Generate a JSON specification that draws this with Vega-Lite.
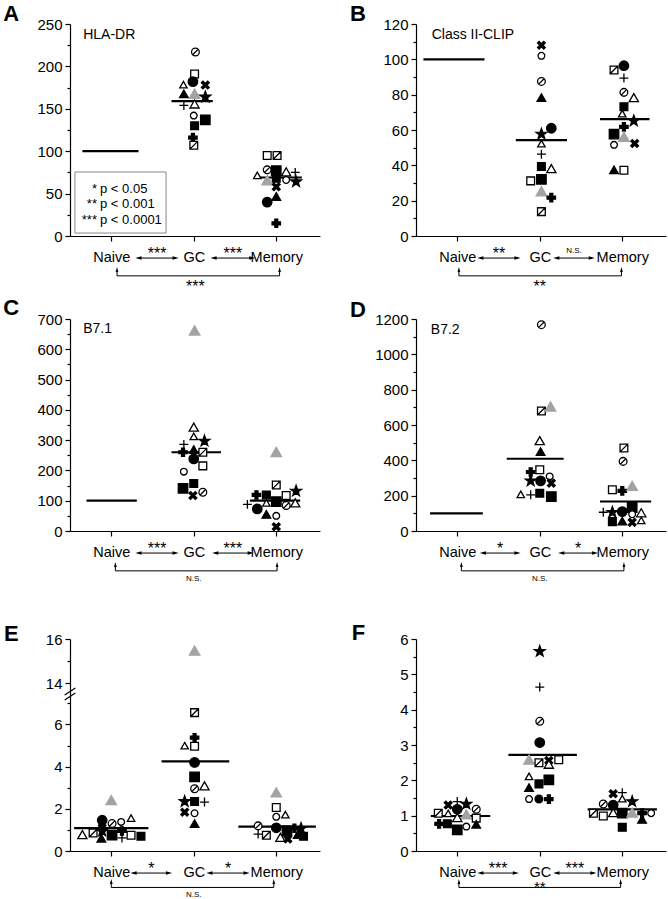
{
"$schema": "https://vega.github.io/schema/vega-lite/v6.json",
"background": "white",
"padding": {"left": 3, "top": 2, "right": 2, "bottom": 2},
"bounds": "flush",
"columns": 2,
"spacing": {"row": 83, "column": 96},
"config": {"font": "Liberation Sans", "view": {"stroke": null},
  "axis": {"grid": false, "domainColor": "black", "tickColor": "black", "labelColor": "black", "titleColor": "black", "domainWidth": 1.2, "tickWidth": 1.2, "labelFontSize": 15, "titleFontSize": 15.5, "titleFontWeight": "normal", "labelFlush": false, "labelOverlap": false}},
"datasets": {
"pts": [
{"p":"A","s":"sc","x":1.02,"y":217},{"p":"A","s":"os","x":1.01,"y":191},{"p":"A","s":"otS","x":0.875,"y":178},{"p":"A","s":"fc","x":0.99,"y":182},{"p":"A","s":"bx","x":1.14,"y":178},{"p":"A","s":"ft","x":0.88,"y":167},{"p":"A","s":"gt","x":1.01,"y":167},{"p":"A","s":"st","x":1.14,"y":164},{"p":"A","s":"pl","x":0.88,"y":154},{"p":"A","s":"otL","x":1.01,"y":155},{"p":"A","s":"oc","x":1.0,"y":142},{"p":"A","s":"fsS","x":1.01,"y":130},{"p":"A","s":"fsL","x":1.14,"y":137},{"p":"A","s":"bp","x":0.99,"y":116},{"p":"A","s":"ss","x":1.0,"y":107},
{"p":"A","s":"os","x":1.89,"y":95},{"p":"A","s":"ss","x":2.01,"y":95},{"p":"A","s":"sc","x":1.89,"y":78},{"p":"A","s":"fsL","x":2.0,"y":77},{"p":"A","s":"fsS","x":2.0,"y":68},{"p":"A","s":"otL","x":2.12,"y":75},{"p":"A","s":"pl","x":2.23,"y":75},{"p":"A","s":"otS","x":1.77,"y":71},{"p":"A","s":"gt","x":1.89,"y":65},{"p":"A","s":"oc","x":2.12,"y":66},{"p":"A","s":"st","x":2.24,"y":64},{"p":"A","s":"bx","x":2.0,"y":58},{"p":"A","s":"ft","x":2.0,"y":46},{"p":"A","s":"fc","x":1.89,"y":40},{"p":"A","s":"bp","x":2.0,"y":15},
{"p":"B","s":"bx","x":1.02,"y":108},{"p":"B","s":"oc","x":1.02,"y":102},{"p":"B","s":"sc","x":1.02,"y":87.5},{"p":"B","s":"ft","x":1.02,"y":78},{"p":"B","s":"fc","x":1.14,"y":61},{"p":"B","s":"st","x":1.02,"y":57.7},{"p":"B","s":"otS","x":1.02,"y":52},{"p":"B","s":"pl","x":1.02,"y":46.3},{"p":"B","s":"fsS","x":1.02,"y":39.3},{"p":"B","s":"otL","x":1.14,"y":37.8},{"p":"B","s":"os","x":0.89,"y":31.2},{"p":"B","s":"fsL","x":1.02,"y":32.1},{"p":"B","s":"gt","x":1.02,"y":25},{"p":"B","s":"bp","x":1.14,"y":21.7},{"p":"B","s":"ss","x":1.02,"y":13.8},
{"p":"B","s":"fc","x":2.02,"y":96.4},{"p":"B","s":"ss","x":1.9,"y":94},{"p":"B","s":"pl","x":2.02,"y":89.4},{"p":"B","s":"sc","x":2.02,"y":81.3},{"p":"B","s":"otL","x":2.14,"y":78},{"p":"B","s":"fsS","x":2.02,"y":73.2},{"p":"B","s":"otS","x":2.0,"y":69},{"p":"B","s":"st","x":2.14,"y":65.2},{"p":"B","s":"bp","x":2.02,"y":61.8},{"p":"B","s":"fsL","x":1.9,"y":57.7},{"p":"B","s":"gt","x":2.02,"y":55.8},{"p":"B","s":"bx","x":2.15,"y":52.4},{"p":"B","s":"oc","x":1.9,"y":51.6},{"p":"B","s":"ft","x":1.9,"y":37.2},{"p":"B","s":"os","x":2.02,"y":37.2},
{"p":"C","s":"gt","x":1.01,"y":660},{"p":"C","s":"otL","x":1.0,"y":341},{"p":"C","s":"otS","x":1.0,"y":311},{"p":"C","s":"pl","x":0.88,"y":286},{"p":"C","s":"st","x":1.13,"y":297},{"p":"C","s":"bp","x":0.87,"y":260},{"p":"C","s":"ft","x":1.0,"y":267},{"p":"C","s":"ss","x":1.11,"y":260},{"p":"C","s":"fc","x":1.0,"y":238},{"p":"C","s":"os","x":1.11,"y":215},{"p":"C","s":"oc","x":0.88,"y":196},{"p":"C","s":"fsL","x":0.87,"y":141},{"p":"C","s":"fsS","x":1.0,"y":157},{"p":"C","s":"bx","x":0.99,"y":117},{"p":"C","s":"sc","x":1.11,"y":128},
{"p":"C","s":"gt","x":2.0,"y":259},{"p":"C","s":"ss","x":2.0,"y":152},{"p":"C","s":"st","x":2.24,"y":132},{"p":"C","s":"bp","x":1.76,"y":119},{"p":"C","s":"fsS","x":1.88,"y":119},{"p":"C","s":"os","x":2.12,"y":117},{"p":"C","s":"pl","x":1.65,"y":88},{"p":"C","s":"fc","x":1.77,"y":73},{"p":"C","s":"otS","x":1.88,"y":91},{"p":"C","s":"fsL","x":2.0,"y":97},{"p":"C","s":"sc","x":2.12,"y":84},{"p":"C","s":"otL","x":2.23,"y":91},{"p":"C","s":"ft","x":1.88,"y":53},{"p":"C","s":"oc","x":2.0,"y":50},{"p":"C","s":"bx","x":2.0,"y":14},
{"p":"D","s":"sc","x":1.02,"y":1168},{"p":"D","s":"ss","x":1.02,"y":679},{"p":"D","s":"gt","x":1.13,"y":701},{"p":"D","s":"otL","x":1.0,"y":508},{"p":"D","s":"ft","x":1.01,"y":447},{"p":"D","s":"bp","x":0.89,"y":334},{"p":"D","s":"os","x":1.0,"y":347},{"p":"D","s":"st","x":0.89,"y":284},{"p":"D","s":"fc","x":1.01,"y":284},{"p":"D","s":"oc","x":1.12,"y":309},{"p":"D","s":"bx","x":1.14,"y":271},{"p":"D","s":"otS","x":0.77,"y":205},{"p":"D","s":"pl","x":0.89,"y":205},{"p":"D","s":"fsS","x":1.0,"y":214},{"p":"D","s":"fsL","x":1.14,"y":195},
{"p":"D","s":"ss","x":2.02,"y":470},{"p":"D","s":"sc","x":2.01,"y":394},{"p":"D","s":"os","x":1.88,"y":233},{"p":"D","s":"bp","x":2.0,"y":227},{"p":"D","s":"gt","x":2.12,"y":252},{"p":"D","s":"fsL","x":2.12,"y":133},{"p":"D","s":"pl","x":1.77,"y":106},{"p":"D","s":"st","x":1.88,"y":106},{"p":"D","s":"fc","x":2.0,"y":110},{"p":"D","s":"oc","x":2.12,"y":95},{"p":"D","s":"otL","x":2.23,"y":100},{"p":"D","s":"fsS","x":1.88,"y":53},{"p":"D","s":"ft","x":2.0,"y":53},{"p":"D","s":"bx","x":2.12,"y":49},{"p":"D","s":"otS","x":2.23,"y":57},
{"p":"E","s":"gt","x":0.0,"y":2.38},{"p":"E","s":"otL","x":-0.35,"y":0.75},{"p":"E","s":"ss","x":-0.22,"y":0.85},{"p":"E","s":"fc","x":-0.11,"y":1.46},{"p":"E","s":"st","x":-0.11,"y":0.95},{"p":"E","s":"ft","x":-0.12,"y":0.58},{"p":"E","s":"fsL","x":0.01,"y":0.75},{"p":"E","s":"sc","x":0.01,"y":1.3},{"p":"E","s":"oc","x":0.12,"y":1.38},{"p":"E","s":"otS","x":0.24,"y":1.54},{"p":"E","s":"bp","x":0.13,"y":0.95},{"p":"E","s":"pl","x":0.13,"y":0.62},{"p":"E","s":"os","x":0.24,"y":0.75},{"p":"E","s":"fsS","x":0.36,"y":0.7},{"p":"E","s":"bx","x":-0.11,"y":1.1},
{"p":"E","s":"gt","x":1.01,"y":15.45},{"p":"E","s":"ss","x":1.01,"y":6.56},{"p":"E","s":"bp","x":1.01,"y":5.37},{"p":"E","s":"otS","x":0.89,"y":4.97},{"p":"E","s":"os","x":1.01,"y":4.97},{"p":"E","s":"fc","x":1.01,"y":4.2},{"p":"E","s":"fsL","x":1.01,"y":3.51},{"p":"E","s":"sc","x":1.01,"y":2.95},{"p":"E","s":"otL","x":1.13,"y":3.06},{"p":"E","s":"st","x":0.89,"y":2.35},{"p":"E","s":"fsS","x":1.01,"y":2.35},{"p":"E","s":"pl","x":1.13,"y":2.32},{"p":"E","s":"bx","x":0.89,"y":1.84},{"p":"E","s":"oc","x":1.01,"y":1.79},{"p":"E","s":"ft","x":1.01,"y":1.27},
{"p":"E","s":"gt","x":2.0,"y":2.75},{"p":"E","s":"os","x":2.0,"y":2.06},{"p":"E","s":"oc","x":2.0,"y":1.62},{"p":"E","s":"otS","x":2.11,"y":1.7},{"p":"E","s":"sc","x":1.78,"y":1.19},{"p":"E","s":"pl","x":1.78,"y":0.8},{"p":"E","s":"ss","x":1.88,"y":0.75},{"p":"E","s":"fc","x":2.0,"y":1.1},{"p":"E","s":"fsL","x":2.13,"y":0.96},{"p":"E","s":"otL","x":2.05,"y":0.62},{"p":"E","s":"bx","x":2.14,"y":0.57},{"p":"E","s":"bp","x":2.22,"y":1.08},{"p":"E","s":"ft","x":2.26,"y":0.75},{"p":"E","s":"st","x":2.3,"y":1.07},{"p":"E","s":"fsS","x":2.33,"y":0.7},
{"p":"F","s":"bx","x":-0.11,"y":1.3},{"p":"F","s":"pl","x":0.0,"y":1.4},{"p":"F","s":"st","x":0.11,"y":1.33},{"p":"F","s":"fc","x":0.0,"y":1.18},{"p":"F","s":"sc","x":0.23,"y":1.18},{"p":"F","s":"ss","x":-0.23,"y":1.07},{"p":"F","s":"otS","x":-0.11,"y":1.05},{"p":"F","s":"gt","x":0.11,"y":1.02},{"p":"F","s":"os","x":0.23,"y":0.93},{"p":"F","s":"otL","x":0.0,"y":0.93},{"p":"F","s":"bp","x":-0.22,"y":0.77},{"p":"F","s":"fsS","x":-0.12,"y":0.77},{"p":"F","s":"fsL","x":0.0,"y":0.6},{"p":"F","s":"oc","x":0.11,"y":0.69},{"p":"F","s":"ft","x":0.23,"y":0.74},
{"p":"F","s":"st","x":1.0,"y":5.65},{"p":"F","s":"pl","x":1.0,"y":4.64},{"p":"F","s":"sc","x":1.0,"y":3.67},{"p":"F","s":"fc","x":1.0,"y":3.07},{"p":"F","s":"gt","x":0.87,"y":2.57},{"p":"F","s":"ss","x":0.99,"y":2.5},{"p":"F","s":"bx","x":1.11,"y":2.56},{"p":"F","s":"otL","x":1.11,"y":2.44},{"p":"F","s":"os","x":1.23,"y":2.58},{"p":"F","s":"otS","x":0.87,"y":2.1},{"p":"F","s":"ft","x":0.87,"y":1.78},{"p":"F","s":"fsS","x":0.99,"y":1.9},{"p":"F","s":"fsL","x":1.11,"y":2.01},{"p":"F","s":"oc","x":0.87,"y":1.47},{"p":"F","s":"fcS","x":0.99,"y":1.47},{"p":"F","s":"bp","x":1.11,"y":1.47},
{"p":"F","s":"bx","x":1.89,"y":1.62},{"p":"F","s":"pl","x":2.0,"y":1.65},{"p":"F","s":"otS","x":2.0,"y":1.47},{"p":"F","s":"st","x":2.12,"y":1.4},{"p":"F","s":"sc","x":1.77,"y":1.33},{"p":"F","s":"fc","x":1.89,"y":1.3},{"p":"F","s":"ss","x":1.65,"y":1.07},{"p":"F","s":"os","x":1.77,"y":0.99},{"p":"F","s":"otL","x":1.89,"y":1.07},{"p":"F","s":"fsL","x":2.0,"y":1.07},{"p":"F","s":"gt","x":2.12,"y":1.07},{"p":"F","s":"bp","x":2.24,"y":1.07},{"p":"F","s":"ft","x":2.24,"y":0.88},{"p":"F","s":"oc","x":2.35,"y":1.07},{"p":"F","s":"fsS","x":2.0,"y":0.67}
],
"med": [
{"p":"A","x1":-0.35,"x2":0.33,"y":100},{"p":"A","x1":0.73,"x2":1.23,"y":159},{"p":"A","x1":1.73,"x2":2.31,"y":69},
{"p":"B","x1":-0.41,"x2":0.33,"y":100},{"p":"B","x1":0.71,"x2":1.33,"y":54.3},{"p":"B","x1":1.73,"x2":2.33,"y":66.2},
{"p":"C","x1":-0.3,"x2":0.31,"y":100},{"p":"C","x1":0.73,"x2":1.33,"y":260},{"p":"C","x1":1.68,"x2":2.29,"y":100},
{"p":"D","x1":-0.33,"x2":0.31,"y":100},{"p":"D","x1":0.6,"x2":1.29,"y":409},{"p":"D","x1":1.73,"x2":2.35,"y":167},
{"p":"E","x1":-0.45,"x2":0.45,"y":1.08},{"p":"E","x1":0.61,"x2":1.43,"y":4.25},{"p":"E","x1":1.54,"x2":2.48,"y":1.16},
{"p":"F","x1":-0.32,"x2":0.4,"y":0.99},{"p":"F","x1":0.62,"x2":1.45,"y":2.72},{"p":"F","x1":1.58,"x2":2.42,"y":1.18}
],
"arr": [
{"p":"A","x1":0.33,"x2":0.78,"xm":0.555,"lab":"***"},{"p":"A","x1":1.24,"x2":1.71,"xm":1.475,"lab":"***"},
{"p":"B","x1":0.28,"x2":0.73,"xm":0.505,"lab":"**"},{"p":"B","x1":1.2,"x2":1.63,"xm":1.415,"lab":"N.S."},
{"p":"C","x1":0.33,"x2":0.78,"xm":0.555,"lab":"***"},{"p":"C","x1":1.26,"x2":1.69,"xm":1.475,"lab":"***"},
{"p":"D","x1":0.31,"x2":0.73,"xm":0.52,"lab":"*"},{"p":"D","x1":1.26,"x2":1.67,"xm":1.465,"lab":"*"},
{"p":"E","x1":0.27,"x2":0.7,"xm":0.485,"lab":"*"},{"p":"E","x1":1.19,"x2":1.64,"xm":1.415,"lab":"*"},
{"p":"F","x1":0.28,"x2":0.71,"xm":0.495,"lab":"***"},{"p":"F","x1":1.2,"x2":1.65,"xm":1.425,"lab":"***"}
],
"brk": [
{"p":"A","x1":0.07,"x2":2.04,"xm":1.02,"lab":"***"},
{"p":"B","x1":0.02,"x2":1.99,"xm":1.0,"lab":"**"},
{"p":"C","x1":0.05,"x2":2.01,"xm":1.0,"lab":"N.S."},
{"p":"D","x1":0.05,"x2":2.02,"xm":1.0,"lab":"N.S."},
{"p":"E","x1":0.0,"x2":1.97,"xm":1.0,"lab":"N.S."},
{"p":"F","x1":0.02,"x2":1.98,"xm":1.0,"lab":"**"}
],
"lab": [
{"p":"A","letter":"A","name":"HLA-DR"},{"p":"B","letter":"B","name":"Class II-CLIP"},{"p":"C","letter":"C","name":"B7.1"},{"p":"D","letter":"D","name":"B7.2"},{"p":"E","letter":"E","name":""},{"p":"F","letter":"F","name":""}
],
"legbox": [{"x1":-0.44,"x2":0.664,"y1":0.14,"y2":3.02}],
"leg": [{"st":"*","t":"p < 0.05","ly":2.03},{"st":"**","t":"p < 0.001","ly":1.32},{"st":"***","t":"p < 0.0001","ly":0.57}]
},
"concat": [
{"width":250,"height":212,
"layer":[
{"layer":[
{"data":{"name":"med"},"transform":[{"filter":"datum.p === 'A'"}],"mark":{"type":"rule","strokeWidth":2.2,"color":"black"},
"encoding":{"x":{"field":"x1","type":"quantitative","title":null,"scale":{"domain":[-0.5,2.53],"nice":false,"zero":false},"axis":{"values":[0,1,2],"tickCount":50,"labelExpr":"['Naive','GC','Memory'][datum.value]","tickSize":5,"labelPadding":9,"labelFontSize":14.5,"labelBaseline":"top","labelOverlap":false}},"x2":{"field":"x2"},
"y":{"field":"y","type":"quantitative","scale":{"domain":[0,250],"nice":false},"axis":{"title":"Relative Expression","values":[0,25,50,75,100,125,150,175,200,225,250],"tickCount":100,"labelExpr":"datum.value % 50 === 0 ? '' + datum.value : ''","tickSize":{"condition":{"test":"datum.value % 50 === 0","value":5},"value":3},"labelPadding":3,"titlePadding":8,"labelOverlap":false}}}},
{"data":{"name":"pts"},"transform":[{"filter":"datum.p === 'A'"}],"mark":{"type":"point","opacity":1,"strokeWidth":1.3},
"encoding":{"x":{"field":"x","type":"quantitative","title":null},"y":{"field":"y","type":"quantitative","title":null},
"shape":{"field":"s","type":"nominal","legend":null,"scale":{"domain":["fc","fcS","oc","sc","fsL","fsS","os","ss","ft","otL","otS","gt","pl","bp","bx","st"],"range":["M1,0A1,1 0 1,1 -1,0A1,1 0 1,1 1,0Z","M1,0A1,1 0 1,1 -1,0A1,1 0 1,1 1,0Z","M1,0A1,1 0 1,1 -1,0A1,1 0 1,1 1,0Z","M1,0A1,1 0 1,1 -1,0A1,1 0 1,1 1,0ZM-0.7,0.7L0.7,-0.7","M-1,-1H1V1H-1Z","M-1,-1H1V1H-1Z","M-1,-1H1V1H-1Z","M-1,-1H1V1H-1ZM-1,1L1,-1","M0,-1L1,0.75L-1,0.75Z","M0,-1L1,0.75L-1,0.75Z","M0,-1L1,0.75L-1,0.75Z","M0,-1L1,0.75L-1,0.75Z","M-1,0H1M0,-1V1","M-0.35,-1H0.35V-0.35H1V0.35H0.35V1H-0.35V0.35H-1V-0.35H-0.35Z","M-1,-0.6L-0.6,-1L0,-0.4L0.6,-1L1,-0.6L0.4,0L1,0.6L0.6,1L0,0.4L-0.6,1L-1,0.6L-0.4,0Z","M0,-1L0.235,-0.324L0.951,-0.309L0.38,0.124L0.588,0.809L0,0.4L-0.588,0.809L-0.38,0.124L-0.951,-0.309L-0.235,-0.324Z"]}},
"fill":{"field":"s","type":"nominal","legend":null,"scale":{"domain":["fc","fcS","oc","sc","fsL","fsS","os","ss","ft","otL","otS","gt","pl","bp","bx","st"],"range":["black","black","white","white","black","black","white","white","black","white","white","#a3a3a3","transparent","black","black","black"]}},
"stroke":{"field":"s","type":"nominal","legend":null,"scale":{"domain":["fc","fcS","oc","sc","fsL","fsS","os","ss","ft","otL","otS","gt","pl","bp","bx","st"],"range":["black","black","black","black","black","black","black","black","black","black","black","#a3a3a3","black","black","black","black"]}},
"size":{"field":"s","type":"ordinal","legend":null,"scale":{"type":"ordinal","domain":["fc","fcS","oc","sc","fsL","fsS","os","ss","ft","otL","otS","gt","pl","bp","bx","st"],"range":[90,60,45,60,90,60,60,60,75,85,55,110,80,70,60,130]}}}}
]},
{"layer":[
{"data":{"name":"arr"},"transform":[{"filter":"datum.p === 'A'"}],"mark":{"type":"rule","strokeWidth":1,"color":"black"},"encoding":{"x":{"field":"x1","type":"quantitative","title":null},"x2":{"field":"x2"},"y":{"datum":-1.04,"type":"quantitative","scale":{"domain":[0,10],"nice":false,"zero":false},"axis":null}}},
{"data":{"name":"arr"},"transform":[{"filter":"datum.p === 'A'"}],"mark":{"type":"point","shape":"M-1,0L1,-0.55L1,0.55Z","filled":true,"color":"black","opacity":1,"size":38},"encoding":{"x":{"field":"x1","type":"quantitative","title":null},"y":{"datum":-1.04,"type":"quantitative"}}},
{"data":{"name":"arr"},"transform":[{"filter":"datum.p === 'A'"}],"mark":{"type":"point","shape":"M1,0L-1,-0.55L-1,0.55Z","filled":true,"color":"black","opacity":1,"size":38},"encoding":{"x":{"field":"x2","type":"quantitative","title":null},"y":{"datum":-1.04,"type":"quantitative"}}},
{"data":{"name":"arr"},"transform":[{"filter":"datum.p === 'A' && datum.lab !== 'N.S.'"}],"mark":{"type":"text","fontSize":16,"baseline":"alphabetic","align":"center","color":"black"},"encoding":{"x":{"field":"xm","type":"quantitative","title":null},"y":{"datum":-1.1,"type":"quantitative"},"text":{"field":"lab"}}},
{"data":{"name":"brk"},"transform":[{"filter":"datum.p === 'A'"}],"mark":{"type":"rule","strokeWidth":1,"color":"black"},"encoding":{"x":{"field":"x1","type":"quantitative","title":null},"x2":{"field":"x2"},"y":{"datum":-1.88,"type":"quantitative"}}},
{"data":{"name":"brk"},"transform":[{"filter":"datum.p === 'A'"}],"mark":{"type":"rule","strokeWidth":1,"color":"black"},"encoding":{"x":{"field":"x1","type":"quantitative","title":null},"y":{"datum":-1.88,"type":"quantitative"},"y2":{"datum":-1.62}}},
{"data":{"name":"brk"},"transform":[{"filter":"datum.p === 'A'"}],"mark":{"type":"rule","strokeWidth":1,"color":"black"},"encoding":{"x":{"field":"x2","type":"quantitative","title":null},"y":{"datum":-1.88,"type":"quantitative"},"y2":{"datum":-1.62}}},
{"data":{"name":"brk"},"transform":[{"filter":"datum.p === 'A'"}],"mark":{"type":"point","shape":"M0,-1L0.55,1L-0.55,1Z","filled":true,"color":"black","opacity":1,"size":25},"encoding":{"x":{"field":"x1","type":"quantitative","title":null},"y":{"datum":-1.58,"type":"quantitative"}}},
{"data":{"name":"brk"},"transform":[{"filter":"datum.p === 'A'"}],"mark":{"type":"point","shape":"M0,-1L0.55,1L-0.55,1Z","filled":true,"color":"black","opacity":1,"size":25},"encoding":{"x":{"field":"x2","type":"quantitative","title":null},"y":{"datum":-1.58,"type":"quantitative"}}},
{"data":{"name":"brk"},"transform":[{"filter":"datum.p === 'A' && datum.lab !== 'N.S.'"}],"mark":{"type":"text","fontSize":16,"baseline":"alphabetic","align":"center","color":"black"},"encoding":{"x":{"field":"xm","type":"quantitative","title":null},"y":{"datum":-2.66,"type":"quantitative"},"text":{"field":"lab"}}},
{"data":{"name":"lab"},"transform":[{"filter":"datum.p === 'A'"}],"mark":{"type":"text","fontSize":22,"fontWeight":"bold","baseline":"alphabetic","align":"left","color":"black"},"encoding":{"x":{"datum":-1.31,"type":"quantitative"},"y":{"datum":10.12,"type":"quantitative"},"text":{"field":"letter"}}},
{"data":{"name":"lab"},"transform":[{"filter":"datum.p === 'A'"}],"mark":{"type":"text","fontSize":14,"baseline":"middle","align":"left","color":"black"},"encoding":{"x":{"datum":-0.34,"type":"quantitative"},"y":{"datum":9.5,"type":"quantitative"},"text":{"field":"name"}}},
{"data":{"name":"legbox"},"mark":{"type":"rect","fill":"white","stroke":"#888888","strokeWidth":1},"encoding":{"x":{"field":"x1","type":"quantitative","title":null},"x2":{"field":"x2"},"y":{"field":"y1","type":"quantitative"},"y2":{"field":"y2"}}},
{"data":{"name":"leg"},"mark":{"type":"text","fontSize":13,"baseline":"alphabetic","align":"right","color":"black"},"encoding":{"x":{"datum":-0.173,"type":"quantitative"},"y":{"field":"ly","type":"quantitative"},"text":{"field":"st"}}},
{"data":{"name":"leg"},"mark":{"type":"text","fontSize":13,"baseline":"alphabetic","align":"left","color":"black"},"encoding":{"x":{"datum":-0.136,"type":"quantitative"},"y":{"field":"ly","type":"quantitative"},"text":{"field":"t"}}}
]}
],
"resolve":{"scale":{"y":"independent"}}
},
{"width":250,"height":212,
"layer":[
{"layer":[
{"data":{"name":"med"},"transform":[{"filter":"datum.p === 'B'"}],"mark":{"type":"rule","strokeWidth":2.2,"color":"black"},
"encoding":{"x":{"field":"x1","type":"quantitative","title":null,"scale":{"domain":[-0.5,2.53],"nice":false,"zero":false},"axis":{"values":[0,1,2],"tickCount":50,"labelExpr":"['Naive','GC','Memory'][datum.value]","tickSize":5,"labelPadding":9,"labelFontSize":14.5,"labelBaseline":"top","labelOverlap":false}},"x2":{"field":"x2"},
"y":{"field":"y","type":"quantitative","scale":{"domain":[0,120],"nice":false},"axis":{"title":"Relative Expression","values":[0,10,20,30,40,50,60,70,80,90,100,110,120],"tickCount":100,"labelExpr":"datum.value % 20 === 0 ? '' + datum.value : ''","tickSize":{"condition":{"test":"datum.value % 20 === 0","value":5},"value":3},"labelPadding":3,"titlePadding":8,"labelOverlap":false}}}},
{"data":{"name":"pts"},"transform":[{"filter":"datum.p === 'B'"}],"mark":{"type":"point","opacity":1,"strokeWidth":1.3},
"encoding":{"x":{"field":"x","type":"quantitative","title":null},"y":{"field":"y","type":"quantitative","title":null},
"shape":{"field":"s","type":"nominal","legend":null,"scale":{"domain":["fc","fcS","oc","sc","fsL","fsS","os","ss","ft","otL","otS","gt","pl","bp","bx","st"],"range":["M1,0A1,1 0 1,1 -1,0A1,1 0 1,1 1,0Z","M1,0A1,1 0 1,1 -1,0A1,1 0 1,1 1,0Z","M1,0A1,1 0 1,1 -1,0A1,1 0 1,1 1,0Z","M1,0A1,1 0 1,1 -1,0A1,1 0 1,1 1,0ZM-0.7,0.7L0.7,-0.7","M-1,-1H1V1H-1Z","M-1,-1H1V1H-1Z","M-1,-1H1V1H-1Z","M-1,-1H1V1H-1ZM-1,1L1,-1","M0,-1L1,0.75L-1,0.75Z","M0,-1L1,0.75L-1,0.75Z","M0,-1L1,0.75L-1,0.75Z","M0,-1L1,0.75L-1,0.75Z","M-1,0H1M0,-1V1","M-0.35,-1H0.35V-0.35H1V0.35H0.35V1H-0.35V0.35H-1V-0.35H-0.35Z","M-1,-0.6L-0.6,-1L0,-0.4L0.6,-1L1,-0.6L0.4,0L1,0.6L0.6,1L0,0.4L-0.6,1L-1,0.6L-0.4,0Z","M0,-1L0.235,-0.324L0.951,-0.309L0.38,0.124L0.588,0.809L0,0.4L-0.588,0.809L-0.38,0.124L-0.951,-0.309L-0.235,-0.324Z"]}},
"fill":{"field":"s","type":"nominal","legend":null,"scale":{"domain":["fc","fcS","oc","sc","fsL","fsS","os","ss","ft","otL","otS","gt","pl","bp","bx","st"],"range":["black","black","white","white","black","black","white","white","black","white","white","#a3a3a3","transparent","black","black","black"]}},
"stroke":{"field":"s","type":"nominal","legend":null,"scale":{"domain":["fc","fcS","oc","sc","fsL","fsS","os","ss","ft","otL","otS","gt","pl","bp","bx","st"],"range":["black","black","black","black","black","black","black","black","black","black","black","#a3a3a3","black","black","black","black"]}},
"size":{"field":"s","type":"ordinal","legend":null,"scale":{"type":"ordinal","domain":["fc","fcS","oc","sc","fsL","fsS","os","ss","ft","otL","otS","gt","pl","bp","bx","st"],"range":[90,60,45,60,90,60,60,60,75,85,55,110,80,70,60,130]}}}}
]},
{"layer":[
{"data":{"name":"arr"},"transform":[{"filter":"datum.p === 'B'"}],"mark":{"type":"rule","strokeWidth":1,"color":"black"},"encoding":{"x":{"field":"x1","type":"quantitative","title":null},"x2":{"field":"x2"},"y":{"datum":-1.04,"type":"quantitative","scale":{"domain":[0,10],"nice":false,"zero":false},"axis":null}}},
{"data":{"name":"arr"},"transform":[{"filter":"datum.p === 'B'"}],"mark":{"type":"point","shape":"M-1,0L1,-0.55L1,0.55Z","filled":true,"color":"black","opacity":1,"size":38},"encoding":{"x":{"field":"x1","type":"quantitative","title":null},"y":{"datum":-1.04,"type":"quantitative"}}},
{"data":{"name":"arr"},"transform":[{"filter":"datum.p === 'B'"}],"mark":{"type":"point","shape":"M1,0L-1,-0.55L-1,0.55Z","filled":true,"color":"black","opacity":1,"size":38},"encoding":{"x":{"field":"x2","type":"quantitative","title":null},"y":{"datum":-1.04,"type":"quantitative"}}},
{"data":{"name":"arr"},"transform":[{"filter":"datum.p === 'B' && datum.lab !== 'N.S.'"}],"mark":{"type":"text","fontSize":16,"baseline":"alphabetic","align":"center","color":"black"},"encoding":{"x":{"field":"xm","type":"quantitative","title":null},"y":{"datum":-1.1,"type":"quantitative"},"text":{"field":"lab"}}},
{"data":{"name":"arr"},"transform":[{"filter":"datum.p === 'B' && datum.lab === 'N.S.'"}],"mark":{"type":"text","fontSize":8,"baseline":"alphabetic","align":"center","color":"black"},"encoding":{"x":{"field":"xm","type":"quantitative","title":null},"y":{"datum":-0.8,"type":"quantitative"},"text":{"field":"lab"}}},
{"data":{"name":"brk"},"transform":[{"filter":"datum.p === 'B'"}],"mark":{"type":"rule","strokeWidth":1,"color":"black"},"encoding":{"x":{"field":"x1","type":"quantitative","title":null},"x2":{"field":"x2"},"y":{"datum":-1.88,"type":"quantitative"}}},
{"data":{"name":"brk"},"transform":[{"filter":"datum.p === 'B'"}],"mark":{"type":"rule","strokeWidth":1,"color":"black"},"encoding":{"x":{"field":"x1","type":"quantitative","title":null},"y":{"datum":-1.88,"type":"quantitative"},"y2":{"datum":-1.62}}},
{"data":{"name":"brk"},"transform":[{"filter":"datum.p === 'B'"}],"mark":{"type":"rule","strokeWidth":1,"color":"black"},"encoding":{"x":{"field":"x2","type":"quantitative","title":null},"y":{"datum":-1.88,"type":"quantitative"},"y2":{"datum":-1.62}}},
{"data":{"name":"brk"},"transform":[{"filter":"datum.p === 'B'"}],"mark":{"type":"point","shape":"M0,-1L0.55,1L-0.55,1Z","filled":true,"color":"black","opacity":1,"size":25},"encoding":{"x":{"field":"x1","type":"quantitative","title":null},"y":{"datum":-1.58,"type":"quantitative"}}},
{"data":{"name":"brk"},"transform":[{"filter":"datum.p === 'B'"}],"mark":{"type":"point","shape":"M0,-1L0.55,1L-0.55,1Z","filled":true,"color":"black","opacity":1,"size":25},"encoding":{"x":{"field":"x2","type":"quantitative","title":null},"y":{"datum":-1.58,"type":"quantitative"}}},
{"data":{"name":"brk"},"transform":[{"filter":"datum.p === 'B' && datum.lab !== 'N.S.'"}],"mark":{"type":"text","fontSize":16,"baseline":"alphabetic","align":"center","color":"black"},"encoding":{"x":{"field":"xm","type":"quantitative","title":null},"y":{"datum":-2.66,"type":"quantitative"},"text":{"field":"lab"}}},
{"data":{"name":"lab"},"transform":[{"filter":"datum.p === 'B'"}],"mark":{"type":"text","fontSize":22,"fontWeight":"bold","baseline":"alphabetic","align":"left","color":"black"},"encoding":{"x":{"datum":-1.3,"type":"quantitative"},"y":{"datum":10.15,"type":"quantitative"},"text":{"field":"letter"}}},
{"data":{"name":"lab"},"transform":[{"filter":"datum.p === 'B'"}],"mark":{"type":"text","fontSize":14,"baseline":"middle","align":"left","color":"black"},"encoding":{"x":{"datum":-0.31,"type":"quantitative"},"y":{"datum":9.5,"type":"quantitative"},"text":{"field":"name"}}}
]}
],
"resolve":{"scale":{"y":"independent"}}
},
{"width":250,"height":212,
"layer":[
{"layer":[
{"data":{"name":"med"},"transform":[{"filter":"datum.p === 'C'"}],"mark":{"type":"rule","strokeWidth":2.2,"color":"black"},
"encoding":{"x":{"field":"x1","type":"quantitative","title":null,"scale":{"domain":[-0.5,2.53],"nice":false,"zero":false},"axis":{"values":[0,1,2],"tickCount":50,"labelExpr":"['Naive','GC','Memory'][datum.value]","tickSize":5,"labelPadding":9,"labelFontSize":14.5,"labelBaseline":"top","labelOverlap":false}},"x2":{"field":"x2"},
"y":{"field":"y","type":"quantitative","scale":{"domain":[0,700],"nice":false},"axis":{"title":"Relative Expression","values":[0,50,100,150,200,250,300,350,400,450,500,550,600,650,700],"tickCount":100,"labelExpr":"datum.value % 100 === 0 ? '' + datum.value : ''","tickSize":{"condition":{"test":"datum.value % 100 === 0","value":5},"value":3},"labelPadding":3,"titlePadding":8,"labelOverlap":false}}}},
{"data":{"name":"pts"},"transform":[{"filter":"datum.p === 'C'"}],"mark":{"type":"point","opacity":1,"strokeWidth":1.3},
"encoding":{"x":{"field":"x","type":"quantitative","title":null},"y":{"field":"y","type":"quantitative","title":null},
"shape":{"field":"s","type":"nominal","legend":null,"scale":{"domain":["fc","fcS","oc","sc","fsL","fsS","os","ss","ft","otL","otS","gt","pl","bp","bx","st"],"range":["M1,0A1,1 0 1,1 -1,0A1,1 0 1,1 1,0Z","M1,0A1,1 0 1,1 -1,0A1,1 0 1,1 1,0Z","M1,0A1,1 0 1,1 -1,0A1,1 0 1,1 1,0Z","M1,0A1,1 0 1,1 -1,0A1,1 0 1,1 1,0ZM-0.7,0.7L0.7,-0.7","M-1,-1H1V1H-1Z","M-1,-1H1V1H-1Z","M-1,-1H1V1H-1Z","M-1,-1H1V1H-1ZM-1,1L1,-1","M0,-1L1,0.75L-1,0.75Z","M0,-1L1,0.75L-1,0.75Z","M0,-1L1,0.75L-1,0.75Z","M0,-1L1,0.75L-1,0.75Z","M-1,0H1M0,-1V1","M-0.35,-1H0.35V-0.35H1V0.35H0.35V1H-0.35V0.35H-1V-0.35H-0.35Z","M-1,-0.6L-0.6,-1L0,-0.4L0.6,-1L1,-0.6L0.4,0L1,0.6L0.6,1L0,0.4L-0.6,1L-1,0.6L-0.4,0Z","M0,-1L0.235,-0.324L0.951,-0.309L0.38,0.124L0.588,0.809L0,0.4L-0.588,0.809L-0.38,0.124L-0.951,-0.309L-0.235,-0.324Z"]}},
"fill":{"field":"s","type":"nominal","legend":null,"scale":{"domain":["fc","fcS","oc","sc","fsL","fsS","os","ss","ft","otL","otS","gt","pl","bp","bx","st"],"range":["black","black","white","white","black","black","white","white","black","white","white","#a3a3a3","transparent","black","black","black"]}},
"stroke":{"field":"s","type":"nominal","legend":null,"scale":{"domain":["fc","fcS","oc","sc","fsL","fsS","os","ss","ft","otL","otS","gt","pl","bp","bx","st"],"range":["black","black","black","black","black","black","black","black","black","black","black","#a3a3a3","black","black","black","black"]}},
"size":{"field":"s","type":"ordinal","legend":null,"scale":{"type":"ordinal","domain":["fc","fcS","oc","sc","fsL","fsS","os","ss","ft","otL","otS","gt","pl","bp","bx","st"],"range":[90,60,45,60,90,60,60,60,75,85,55,110,80,70,60,130]}}}}
]},
{"layer":[
{"data":{"name":"arr"},"transform":[{"filter":"datum.p === 'C'"}],"mark":{"type":"rule","strokeWidth":1,"color":"black"},"encoding":{"x":{"field":"x1","type":"quantitative","title":null},"x2":{"field":"x2"},"y":{"datum":-1.04,"type":"quantitative","scale":{"domain":[0,10],"nice":false,"zero":false},"axis":null}}},
{"data":{"name":"arr"},"transform":[{"filter":"datum.p === 'C'"}],"mark":{"type":"point","shape":"M-1,0L1,-0.55L1,0.55Z","filled":true,"color":"black","opacity":1,"size":38},"encoding":{"x":{"field":"x1","type":"quantitative","title":null},"y":{"datum":-1.04,"type":"quantitative"}}},
{"data":{"name":"arr"},"transform":[{"filter":"datum.p === 'C'"}],"mark":{"type":"point","shape":"M1,0L-1,-0.55L-1,0.55Z","filled":true,"color":"black","opacity":1,"size":38},"encoding":{"x":{"field":"x2","type":"quantitative","title":null},"y":{"datum":-1.04,"type":"quantitative"}}},
{"data":{"name":"arr"},"transform":[{"filter":"datum.p === 'C' && datum.lab !== 'N.S.'"}],"mark":{"type":"text","fontSize":16,"baseline":"alphabetic","align":"center","color":"black"},"encoding":{"x":{"field":"xm","type":"quantitative","title":null},"y":{"datum":-1.1,"type":"quantitative"},"text":{"field":"lab"}}},
{"data":{"name":"brk"},"transform":[{"filter":"datum.p === 'C'"}],"mark":{"type":"rule","strokeWidth":1,"color":"black"},"encoding":{"x":{"field":"x1","type":"quantitative","title":null},"x2":{"field":"x2"},"y":{"datum":-1.88,"type":"quantitative"}}},
{"data":{"name":"brk"},"transform":[{"filter":"datum.p === 'C'"}],"mark":{"type":"rule","strokeWidth":1,"color":"black"},"encoding":{"x":{"field":"x1","type":"quantitative","title":null},"y":{"datum":-1.88,"type":"quantitative"},"y2":{"datum":-1.62}}},
{"data":{"name":"brk"},"transform":[{"filter":"datum.p === 'C'"}],"mark":{"type":"rule","strokeWidth":1,"color":"black"},"encoding":{"x":{"field":"x2","type":"quantitative","title":null},"y":{"datum":-1.88,"type":"quantitative"},"y2":{"datum":-1.62}}},
{"data":{"name":"brk"},"transform":[{"filter":"datum.p === 'C'"}],"mark":{"type":"point","shape":"M0,-1L0.55,1L-0.55,1Z","filled":true,"color":"black","opacity":1,"size":25},"encoding":{"x":{"field":"x1","type":"quantitative","title":null},"y":{"datum":-1.58,"type":"quantitative"}}},
{"data":{"name":"brk"},"transform":[{"filter":"datum.p === 'C'"}],"mark":{"type":"point","shape":"M0,-1L0.55,1L-0.55,1Z","filled":true,"color":"black","opacity":1,"size":25},"encoding":{"x":{"field":"x2","type":"quantitative","title":null},"y":{"datum":-1.58,"type":"quantitative"}}},
{"data":{"name":"brk"},"transform":[{"filter":"datum.p === 'C' && datum.lab === 'N.S.'"}],"mark":{"type":"text","fontSize":8,"baseline":"alphabetic","align":"center","color":"black"},"encoding":{"x":{"field":"xm","type":"quantitative","title":null},"y":{"datum":-2.36,"type":"quantitative"},"text":{"field":"lab"}}},
{"data":{"name":"lab"},"transform":[{"filter":"datum.p === 'C'"}],"mark":{"type":"text","fontSize":22,"fontWeight":"bold","baseline":"alphabetic","align":"left","color":"black"},"encoding":{"x":{"datum":-1.31,"type":"quantitative"},"y":{"datum":10.19,"type":"quantitative"},"text":{"field":"letter"}}},
{"data":{"name":"lab"},"transform":[{"filter":"datum.p === 'C'"}],"mark":{"type":"text","fontSize":14,"baseline":"middle","align":"left","color":"black"},"encoding":{"x":{"datum":-0.34,"type":"quantitative"},"y":{"datum":9.55,"type":"quantitative"},"text":{"field":"name"}}}
]}
],
"resolve":{"scale":{"y":"independent"}}
},
{"width":250,"height":212,
"layer":[
{"layer":[
{"data":{"name":"med"},"transform":[{"filter":"datum.p === 'D'"}],"mark":{"type":"rule","strokeWidth":2.2,"color":"black"},
"encoding":{"x":{"field":"x1","type":"quantitative","title":null,"scale":{"domain":[-0.5,2.53],"nice":false,"zero":false},"axis":{"values":[0,1,2],"tickCount":50,"labelExpr":"['Naive','GC','Memory'][datum.value]","tickSize":5,"labelPadding":9,"labelFontSize":14.5,"labelBaseline":"top","labelOverlap":false}},"x2":{"field":"x2"},
"y":{"field":"y","type":"quantitative","scale":{"domain":[0,1200],"nice":false},"axis":{"title":"Relative Expression","values":[0,100,200,300,400,500,600,700,800,900,1000,1100,1200],"tickCount":100,"labelExpr":"datum.value % 200 === 0 ? '' + datum.value : ''","tickSize":{"condition":{"test":"datum.value % 200 === 0","value":5},"value":3},"labelPadding":3,"titlePadding":8,"labelOverlap":false}}}},
{"data":{"name":"pts"},"transform":[{"filter":"datum.p === 'D'"}],"mark":{"type":"point","opacity":1,"strokeWidth":1.3},
"encoding":{"x":{"field":"x","type":"quantitative","title":null},"y":{"field":"y","type":"quantitative","title":null},
"shape":{"field":"s","type":"nominal","legend":null,"scale":{"domain":["fc","fcS","oc","sc","fsL","fsS","os","ss","ft","otL","otS","gt","pl","bp","bx","st"],"range":["M1,0A1,1 0 1,1 -1,0A1,1 0 1,1 1,0Z","M1,0A1,1 0 1,1 -1,0A1,1 0 1,1 1,0Z","M1,0A1,1 0 1,1 -1,0A1,1 0 1,1 1,0Z","M1,0A1,1 0 1,1 -1,0A1,1 0 1,1 1,0ZM-0.7,0.7L0.7,-0.7","M-1,-1H1V1H-1Z","M-1,-1H1V1H-1Z","M-1,-1H1V1H-1Z","M-1,-1H1V1H-1ZM-1,1L1,-1","M0,-1L1,0.75L-1,0.75Z","M0,-1L1,0.75L-1,0.75Z","M0,-1L1,0.75L-1,0.75Z","M0,-1L1,0.75L-1,0.75Z","M-1,0H1M0,-1V1","M-0.35,-1H0.35V-0.35H1V0.35H0.35V1H-0.35V0.35H-1V-0.35H-0.35Z","M-1,-0.6L-0.6,-1L0,-0.4L0.6,-1L1,-0.6L0.4,0L1,0.6L0.6,1L0,0.4L-0.6,1L-1,0.6L-0.4,0Z","M0,-1L0.235,-0.324L0.951,-0.309L0.38,0.124L0.588,0.809L0,0.4L-0.588,0.809L-0.38,0.124L-0.951,-0.309L-0.235,-0.324Z"]}},
"fill":{"field":"s","type":"nominal","legend":null,"scale":{"domain":["fc","fcS","oc","sc","fsL","fsS","os","ss","ft","otL","otS","gt","pl","bp","bx","st"],"range":["black","black","white","white","black","black","white","white","black","white","white","#a3a3a3","transparent","black","black","black"]}},
"stroke":{"field":"s","type":"nominal","legend":null,"scale":{"domain":["fc","fcS","oc","sc","fsL","fsS","os","ss","ft","otL","otS","gt","pl","bp","bx","st"],"range":["black","black","black","black","black","black","black","black","black","black","black","#a3a3a3","black","black","black","black"]}},
"size":{"field":"s","type":"ordinal","legend":null,"scale":{"type":"ordinal","domain":["fc","fcS","oc","sc","fsL","fsS","os","ss","ft","otL","otS","gt","pl","bp","bx","st"],"range":[90,60,45,60,90,60,60,60,75,85,55,110,80,70,60,130]}}}}
]},
{"layer":[
{"data":{"name":"arr"},"transform":[{"filter":"datum.p === 'D'"}],"mark":{"type":"rule","strokeWidth":1,"color":"black"},"encoding":{"x":{"field":"x1","type":"quantitative","title":null},"x2":{"field":"x2"},"y":{"datum":-1.04,"type":"quantitative","scale":{"domain":[0,10],"nice":false,"zero":false},"axis":null}}},
{"data":{"name":"arr"},"transform":[{"filter":"datum.p === 'D'"}],"mark":{"type":"point","shape":"M-1,0L1,-0.55L1,0.55Z","filled":true,"color":"black","opacity":1,"size":38},"encoding":{"x":{"field":"x1","type":"quantitative","title":null},"y":{"datum":-1.04,"type":"quantitative"}}},
{"data":{"name":"arr"},"transform":[{"filter":"datum.p === 'D'"}],"mark":{"type":"point","shape":"M1,0L-1,-0.55L-1,0.55Z","filled":true,"color":"black","opacity":1,"size":38},"encoding":{"x":{"field":"x2","type":"quantitative","title":null},"y":{"datum":-1.04,"type":"quantitative"}}},
{"data":{"name":"arr"},"transform":[{"filter":"datum.p === 'D' && datum.lab !== 'N.S.'"}],"mark":{"type":"text","fontSize":16,"baseline":"alphabetic","align":"center","color":"black"},"encoding":{"x":{"field":"xm","type":"quantitative","title":null},"y":{"datum":-1.1,"type":"quantitative"},"text":{"field":"lab"}}},
{"data":{"name":"brk"},"transform":[{"filter":"datum.p === 'D'"}],"mark":{"type":"rule","strokeWidth":1,"color":"black"},"encoding":{"x":{"field":"x1","type":"quantitative","title":null},"x2":{"field":"x2"},"y":{"datum":-1.88,"type":"quantitative"}}},
{"data":{"name":"brk"},"transform":[{"filter":"datum.p === 'D'"}],"mark":{"type":"rule","strokeWidth":1,"color":"black"},"encoding":{"x":{"field":"x1","type":"quantitative","title":null},"y":{"datum":-1.88,"type":"quantitative"},"y2":{"datum":-1.62}}},
{"data":{"name":"brk"},"transform":[{"filter":"datum.p === 'D'"}],"mark":{"type":"rule","strokeWidth":1,"color":"black"},"encoding":{"x":{"field":"x2","type":"quantitative","title":null},"y":{"datum":-1.88,"type":"quantitative"},"y2":{"datum":-1.62}}},
{"data":{"name":"brk"},"transform":[{"filter":"datum.p === 'D'"}],"mark":{"type":"point","shape":"M0,-1L0.55,1L-0.55,1Z","filled":true,"color":"black","opacity":1,"size":25},"encoding":{"x":{"field":"x1","type":"quantitative","title":null},"y":{"datum":-1.58,"type":"quantitative"}}},
{"data":{"name":"brk"},"transform":[{"filter":"datum.p === 'D'"}],"mark":{"type":"point","shape":"M0,-1L0.55,1L-0.55,1Z","filled":true,"color":"black","opacity":1,"size":25},"encoding":{"x":{"field":"x2","type":"quantitative","title":null},"y":{"datum":-1.58,"type":"quantitative"}}},
{"data":{"name":"brk"},"transform":[{"filter":"datum.p === 'D' && datum.lab === 'N.S.'"}],"mark":{"type":"text","fontSize":8,"baseline":"alphabetic","align":"center","color":"black"},"encoding":{"x":{"field":"xm","type":"quantitative","title":null},"y":{"datum":-2.36,"type":"quantitative"},"text":{"field":"lab"}}},
{"data":{"name":"lab"},"transform":[{"filter":"datum.p === 'D'"}],"mark":{"type":"text","fontSize":22,"fontWeight":"bold","baseline":"alphabetic","align":"left","color":"black"},"encoding":{"x":{"datum":-1.3,"type":"quantitative"},"y":{"datum":10.1,"type":"quantitative"},"text":{"field":"letter"}}},
{"data":{"name":"lab"},"transform":[{"filter":"datum.p === 'D'"}],"mark":{"type":"text","fontSize":14,"baseline":"middle","align":"left","color":"black"},"encoding":{"x":{"datum":-0.32,"type":"quantitative"},"y":{"datum":9.48,"type":"quantitative"},"text":{"field":"name"}}}
]}
],
"resolve":{"scale":{"y":"independent"}}
},
{"width":250,"height":237,
"layer":[
{"layer":[
{"data":{"name":"med"},"transform":[{"filter":"datum.p === 'E'"}],"mark":{"type":"rule","strokeWidth":2.2,"color":"black"},
"encoding":{"x":{"field":"x1","type":"quantitative","title":null,"scale":{"domain":[-0.5,2.53],"nice":false,"zero":false},"axis":{"values":[0,1,2],"tickCount":50,"labelExpr":"['Naive','GC','Memory'][datum.value]","tickSize":5,"labelPadding":9,"labelFontSize":14.5,"labelBaseline":"top","labelOverlap":false}},"x2":{"field":"x2"},
"y":{"field":"y","type":"quantitative","scale":{"domain":[0,7.3,13.7,16],"range":[237,83,76,25],"nice":false,"zero":false},"axis":{"title":"Ratio: DR:CLIP","values":[0,1,2,3,4,5,6,7,14,15,16],"tickCount":100,"labelExpr":"datum.value % 2 === 0 ? '' + datum.value : ''","tickSize":{"condition":{"test":"datum.value % 2 === 0","value":5},"value":3},"labelPadding":3,"titlePadding":8,"labelOverlap":false}}}},
{"data":{"name":"pts"},"transform":[{"filter":"datum.p === 'E'"}],"mark":{"type":"point","opacity":1,"strokeWidth":1.3},
"encoding":{"x":{"field":"x","type":"quantitative","title":null},"y":{"field":"y","type":"quantitative","title":null},
"shape":{"field":"s","type":"nominal","legend":null,"scale":{"domain":["fc","fcS","oc","sc","fsL","fsS","os","ss","ft","otL","otS","gt","pl","bp","bx","st"],"range":["M1,0A1,1 0 1,1 -1,0A1,1 0 1,1 1,0Z","M1,0A1,1 0 1,1 -1,0A1,1 0 1,1 1,0Z","M1,0A1,1 0 1,1 -1,0A1,1 0 1,1 1,0Z","M1,0A1,1 0 1,1 -1,0A1,1 0 1,1 1,0ZM-0.7,0.7L0.7,-0.7","M-1,-1H1V1H-1Z","M-1,-1H1V1H-1Z","M-1,-1H1V1H-1Z","M-1,-1H1V1H-1ZM-1,1L1,-1","M0,-1L1,0.75L-1,0.75Z","M0,-1L1,0.75L-1,0.75Z","M0,-1L1,0.75L-1,0.75Z","M0,-1L1,0.75L-1,0.75Z","M-1,0H1M0,-1V1","M-0.35,-1H0.35V-0.35H1V0.35H0.35V1H-0.35V0.35H-1V-0.35H-0.35Z","M-1,-0.6L-0.6,-1L0,-0.4L0.6,-1L1,-0.6L0.4,0L1,0.6L0.6,1L0,0.4L-0.6,1L-1,0.6L-0.4,0Z","M0,-1L0.235,-0.324L0.951,-0.309L0.38,0.124L0.588,0.809L0,0.4L-0.588,0.809L-0.38,0.124L-0.951,-0.309L-0.235,-0.324Z"]}},
"fill":{"field":"s","type":"nominal","legend":null,"scale":{"domain":["fc","fcS","oc","sc","fsL","fsS","os","ss","ft","otL","otS","gt","pl","bp","bx","st"],"range":["black","black","white","white","black","black","white","white","black","white","white","#a3a3a3","transparent","black","black","black"]}},
"stroke":{"field":"s","type":"nominal","legend":null,"scale":{"domain":["fc","fcS","oc","sc","fsL","fsS","os","ss","ft","otL","otS","gt","pl","bp","bx","st"],"range":["black","black","black","black","black","black","black","black","black","black","black","#a3a3a3","black","black","black","black"]}},
"size":{"field":"s","type":"ordinal","legend":null,"scale":{"type":"ordinal","domain":["fc","fcS","oc","sc","fsL","fsS","os","ss","ft","otL","otS","gt","pl","bp","bx","st"],"range":[90,60,45,60,90,60,60,60,75,85,55,110,80,70,60,130]}}}}
]},
{"layer":[
{"data":{"name":"arr"},"transform":[{"filter":"datum.p === 'E'"}],"mark":{"type":"rule","strokeWidth":1,"color":"black"},"encoding":{"x":{"field":"x1","type":"quantitative","title":null},"x2":{"field":"x2"},"y":{"datum":-1.04,"type":"quantitative","scale":{"domain":[0,10],"range":[237,25],"nice":false,"zero":false},"axis":null}}},
{"data":{"name":"arr"},"transform":[{"filter":"datum.p === 'E'"}],"mark":{"type":"point","shape":"M-1,0L1,-0.55L1,0.55Z","filled":true,"color":"black","opacity":1,"size":38},"encoding":{"x":{"field":"x1","type":"quantitative","title":null},"y":{"datum":-1.04,"type":"quantitative"}}},
{"data":{"name":"arr"},"transform":[{"filter":"datum.p === 'E'"}],"mark":{"type":"point","shape":"M1,0L-1,-0.55L-1,0.55Z","filled":true,"color":"black","opacity":1,"size":38},"encoding":{"x":{"field":"x2","type":"quantitative","title":null},"y":{"datum":-1.04,"type":"quantitative"}}},
{"data":{"name":"arr"},"transform":[{"filter":"datum.p === 'E' && datum.lab !== 'N.S.'"}],"mark":{"type":"text","fontSize":16,"baseline":"alphabetic","align":"center","color":"black"},"encoding":{"x":{"field":"xm","type":"quantitative","title":null},"y":{"datum":-1.1,"type":"quantitative"},"text":{"field":"lab"}}},
{"data":{"name":"brk"},"transform":[{"filter":"datum.p === 'E'"}],"mark":{"type":"rule","strokeWidth":1,"color":"black"},"encoding":{"x":{"field":"x1","type":"quantitative","title":null},"x2":{"field":"x2"},"y":{"datum":-1.72,"type":"quantitative"}}},
{"data":{"name":"brk"},"transform":[{"filter":"datum.p === 'E'"}],"mark":{"type":"rule","strokeWidth":1,"color":"black"},"encoding":{"x":{"field":"x1","type":"quantitative","title":null},"y":{"datum":-1.72,"type":"quantitative"},"y2":{"datum":-1.48}}},
{"data":{"name":"brk"},"transform":[{"filter":"datum.p === 'E'"}],"mark":{"type":"rule","strokeWidth":1,"color":"black"},"encoding":{"x":{"field":"x2","type":"quantitative","title":null},"y":{"datum":-1.72,"type":"quantitative"},"y2":{"datum":-1.48}}},
{"data":{"name":"brk"},"transform":[{"filter":"datum.p === 'E'"}],"mark":{"type":"point","shape":"M0,-1L0.55,1L-0.55,1Z","filled":true,"color":"black","opacity":1,"size":25},"encoding":{"x":{"field":"x1","type":"quantitative","title":null},"y":{"datum":-1.44,"type":"quantitative"}}},
{"data":{"name":"brk"},"transform":[{"filter":"datum.p === 'E'"}],"mark":{"type":"point","shape":"M0,-1L0.55,1L-0.55,1Z","filled":true,"color":"black","opacity":1,"size":25},"encoding":{"x":{"field":"x2","type":"quantitative","title":null},"y":{"datum":-1.44,"type":"quantitative"}}},
{"data":{"name":"brk"},"transform":[{"filter":"datum.p === 'E' && datum.lab === 'N.S.'"}],"mark":{"type":"text","fontSize":8,"baseline":"alphabetic","align":"center","color":"black"},"encoding":{"x":{"field":"xm","type":"quantitative","title":null},"y":{"datum":-2.15,"type":"quantitative"},"text":{"field":"lab"}}},
{"data":{"name":"lab"},"transform":[{"filter":"datum.p === 'E'"}],"mark":{"type":"text","fontSize":22,"fontWeight":"bold","baseline":"alphabetic","align":"left","color":"black"},"encoding":{"x":{"datum":-1.3,"type":"quantitative"},"y":{"datum":9.9,"type":"quantitative"},"text":{"field":"letter"}}},
{"data":{"name":"lab"},"transform":[{"filter":"datum.p === 'E'"}],"mark":{"type":"rule","strokeWidth":1.2,"color":"black"},"encoding":{"x":{"datum":-0.565,"type":"quantitative"},"x2":{"datum":-0.435},"y":{"datum":7.36,"type":"quantitative"},"y2":{"datum":7.69}}},
{"data":{"name":"lab"},"transform":[{"filter":"datum.p === 'E'"}],"mark":{"type":"rule","strokeWidth":1.2,"color":"black"},"encoding":{"x":{"datum":-0.565,"type":"quantitative"},"x2":{"datum":-0.435},"y":{"datum":7.12,"type":"quantitative"},"y2":{"datum":7.45}}}
]}
],
"resolve":{"scale":{"y":"independent"}}
},
{"width":250,"height":237,
"layer":[
{"layer":[
{"data":{"name":"med"},"transform":[{"filter":"datum.p === 'F'"}],"mark":{"type":"rule","strokeWidth":2.2,"color":"black"},
"encoding":{"x":{"field":"x1","type":"quantitative","title":null,"scale":{"domain":[-0.5,2.53],"nice":false,"zero":false},"axis":{"values":[0,1,2],"tickCount":50,"labelExpr":"['Naive','GC','Memory'][datum.value]","tickSize":5,"labelPadding":9,"labelFontSize":14.5,"labelBaseline":"top","labelOverlap":false}},"x2":{"field":"x2"},
"y":{"field":"y","type":"quantitative","scale":{"domain":[0,6],"range":[237,25],"nice":false},"axis":{"title":"Ratio: DM:DO","values":[0,0.5,1,1.5,2,2.5,3,3.5,4,4.5,5,5.5,6],"tickCount":100,"labelExpr":"datum.value % 1 === 0 ? '' + datum.value : ''","tickSize":{"condition":{"test":"datum.value % 1 === 0","value":5},"value":3},"labelPadding":3,"titlePadding":8,"labelOverlap":false}}}},
{"data":{"name":"pts"},"transform":[{"filter":"datum.p === 'F'"}],"mark":{"type":"point","opacity":1,"strokeWidth":1.3},
"encoding":{"x":{"field":"x","type":"quantitative","title":null},"y":{"field":"y","type":"quantitative","title":null},
"shape":{"field":"s","type":"nominal","legend":null,"scale":{"domain":["fc","fcS","oc","sc","fsL","fsS","os","ss","ft","otL","otS","gt","pl","bp","bx","st"],"range":["M1,0A1,1 0 1,1 -1,0A1,1 0 1,1 1,0Z","M1,0A1,1 0 1,1 -1,0A1,1 0 1,1 1,0Z","M1,0A1,1 0 1,1 -1,0A1,1 0 1,1 1,0Z","M1,0A1,1 0 1,1 -1,0A1,1 0 1,1 1,0ZM-0.7,0.7L0.7,-0.7","M-1,-1H1V1H-1Z","M-1,-1H1V1H-1Z","M-1,-1H1V1H-1Z","M-1,-1H1V1H-1ZM-1,1L1,-1","M0,-1L1,0.75L-1,0.75Z","M0,-1L1,0.75L-1,0.75Z","M0,-1L1,0.75L-1,0.75Z","M0,-1L1,0.75L-1,0.75Z","M-1,0H1M0,-1V1","M-0.35,-1H0.35V-0.35H1V0.35H0.35V1H-0.35V0.35H-1V-0.35H-0.35Z","M-1,-0.6L-0.6,-1L0,-0.4L0.6,-1L1,-0.6L0.4,0L1,0.6L0.6,1L0,0.4L-0.6,1L-1,0.6L-0.4,0Z","M0,-1L0.235,-0.324L0.951,-0.309L0.38,0.124L0.588,0.809L0,0.4L-0.588,0.809L-0.38,0.124L-0.951,-0.309L-0.235,-0.324Z"]}},
"fill":{"field":"s","type":"nominal","legend":null,"scale":{"domain":["fc","fcS","oc","sc","fsL","fsS","os","ss","ft","otL","otS","gt","pl","bp","bx","st"],"range":["black","black","white","white","black","black","white","white","black","white","white","#a3a3a3","transparent","black","black","black"]}},
"stroke":{"field":"s","type":"nominal","legend":null,"scale":{"domain":["fc","fcS","oc","sc","fsL","fsS","os","ss","ft","otL","otS","gt","pl","bp","bx","st"],"range":["black","black","black","black","black","black","black","black","black","black","black","#a3a3a3","black","black","black","black"]}},
"size":{"field":"s","type":"ordinal","legend":null,"scale":{"type":"ordinal","domain":["fc","fcS","oc","sc","fsL","fsS","os","ss","ft","otL","otS","gt","pl","bp","bx","st"],"range":[90,60,45,60,90,60,60,60,75,85,55,110,80,70,60,130]}}}}
]},
{"layer":[
{"data":{"name":"arr"},"transform":[{"filter":"datum.p === 'F'"}],"mark":{"type":"rule","strokeWidth":1,"color":"black"},"encoding":{"x":{"field":"x1","type":"quantitative","title":null},"x2":{"field":"x2"},"y":{"datum":-1.04,"type":"quantitative","scale":{"domain":[0,10],"range":[237,25],"nice":false,"zero":false},"axis":null}}},
{"data":{"name":"arr"},"transform":[{"filter":"datum.p === 'F'"}],"mark":{"type":"point","shape":"M-1,0L1,-0.55L1,0.55Z","filled":true,"color":"black","opacity":1,"size":38},"encoding":{"x":{"field":"x1","type":"quantitative","title":null},"y":{"datum":-1.04,"type":"quantitative"}}},
{"data":{"name":"arr"},"transform":[{"filter":"datum.p === 'F'"}],"mark":{"type":"point","shape":"M1,0L-1,-0.55L-1,0.55Z","filled":true,"color":"black","opacity":1,"size":38},"encoding":{"x":{"field":"x2","type":"quantitative","title":null},"y":{"datum":-1.04,"type":"quantitative"}}},
{"data":{"name":"arr"},"transform":[{"filter":"datum.p === 'F' && datum.lab !== 'N.S.'"}],"mark":{"type":"text","fontSize":16,"baseline":"alphabetic","align":"center","color":"black"},"encoding":{"x":{"field":"xm","type":"quantitative","title":null},"y":{"datum":-1.1,"type":"quantitative"},"text":{"field":"lab"}}},
{"data":{"name":"brk"},"transform":[{"filter":"datum.p === 'F'"}],"mark":{"type":"rule","strokeWidth":1,"color":"black"},"encoding":{"x":{"field":"x1","type":"quantitative","title":null},"x2":{"field":"x2"},"y":{"datum":-1.72,"type":"quantitative"}}},
{"data":{"name":"brk"},"transform":[{"filter":"datum.p === 'F'"}],"mark":{"type":"rule","strokeWidth":1,"color":"black"},"encoding":{"x":{"field":"x1","type":"quantitative","title":null},"y":{"datum":-1.72,"type":"quantitative"},"y2":{"datum":-1.48}}},
{"data":{"name":"brk"},"transform":[{"filter":"datum.p === 'F'"}],"mark":{"type":"rule","strokeWidth":1,"color":"black"},"encoding":{"x":{"field":"x2","type":"quantitative","title":null},"y":{"datum":-1.72,"type":"quantitative"},"y2":{"datum":-1.48}}},
{"data":{"name":"brk"},"transform":[{"filter":"datum.p === 'F'"}],"mark":{"type":"point","shape":"M0,-1L0.55,1L-0.55,1Z","filled":true,"color":"black","opacity":1,"size":25},"encoding":{"x":{"field":"x1","type":"quantitative","title":null},"y":{"datum":-1.44,"type":"quantitative"}}},
{"data":{"name":"brk"},"transform":[{"filter":"datum.p === 'F'"}],"mark":{"type":"point","shape":"M0,-1L0.55,1L-0.55,1Z","filled":true,"color":"black","opacity":1,"size":25},"encoding":{"x":{"field":"x2","type":"quantitative","title":null},"y":{"datum":-1.44,"type":"quantitative"}}},
{"data":{"name":"brk"},"transform":[{"filter":"datum.p === 'F' && datum.lab !== 'N.S.'"}],"mark":{"type":"text","fontSize":15,"baseline":"alphabetic","align":"center","color":"black"},"encoding":{"x":{"field":"xm","type":"quantitative","title":null},"y":{"datum":-1.95,"type":"quantitative"},"text":{"field":"lab"}}},
{"data":{"name":"lab"},"transform":[{"filter":"datum.p === 'F'"}],"mark":{"type":"text","fontSize":22,"fontWeight":"bold","baseline":"alphabetic","align":"left","color":"black"},"encoding":{"x":{"datum":-1.28,"type":"quantitative"},"y":{"datum":9.95,"type":"quantitative"},"text":{"field":"letter"}}}
]}
],
"resolve":{"scale":{"y":"independent"}}
}
]
}
